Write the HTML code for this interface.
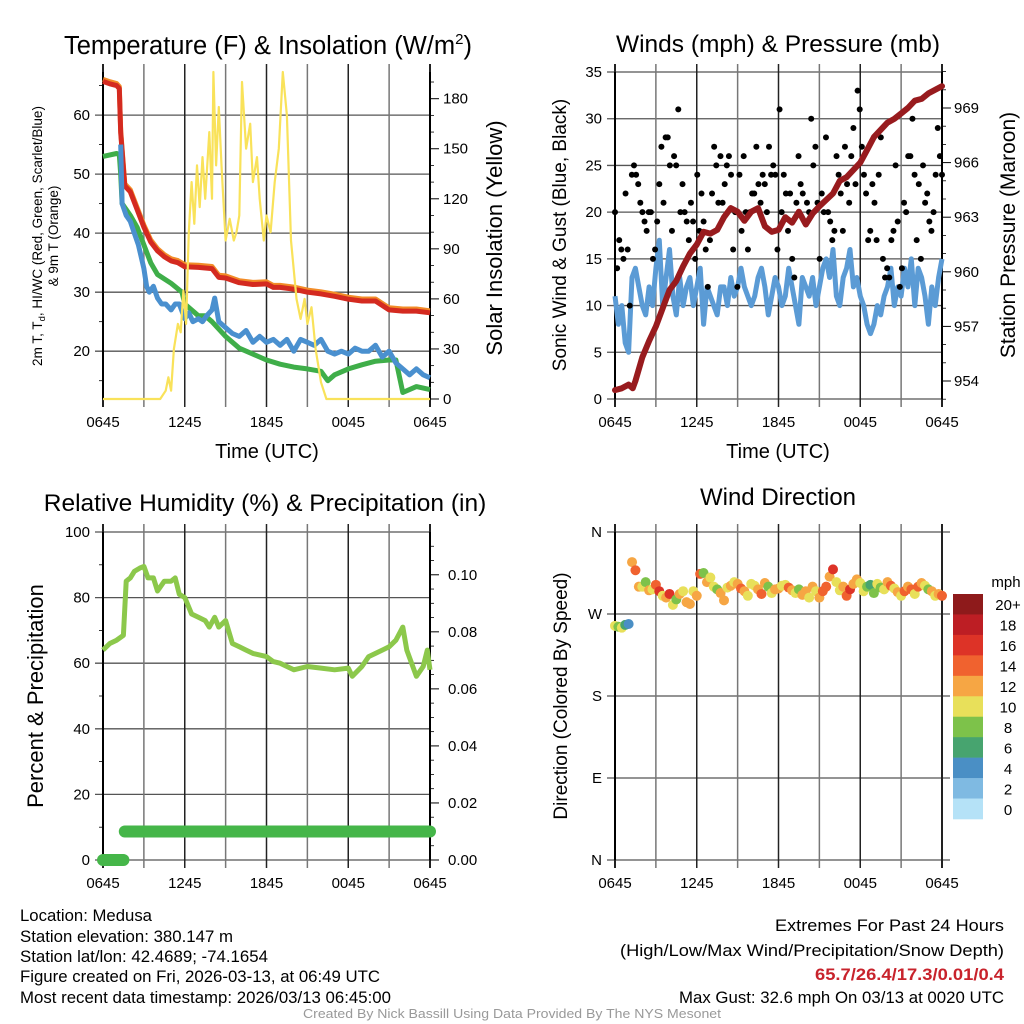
<!DOCTYPE html>
<html><head><meta charset="utf-8"><style>
html,body{margin:0;padding:0;background:#fff}
svg{display:block;font-family:"Liberation Sans",sans-serif}
</style></head><body>
<svg id="fig" width="1024" height="1024" viewBox="0 0 1024 1024" xmlns="http://www.w3.org/2000/svg">
<rect width="1024" height="1024" fill="#fff"/>
<g id="g"></g>
<g font-size="16.5" fill="#000">
<text x="20" y="921" textLength="132" lengthAdjust="spacingAndGlyphs">Location: Medusa</text>
<text x="20" y="942" textLength="213" lengthAdjust="spacingAndGlyphs">Station elevation: 380.147 m</text>
<text x="20" y="962" textLength="248" lengthAdjust="spacingAndGlyphs">Station lat/lon: 42.4689; -74.1654</text>
<text x="20" y="982" textLength="360" lengthAdjust="spacingAndGlyphs">Figure created on Fri, 2026-03-13, at 06:49 UTC</text>
<text x="20" y="1003" textLength="371" lengthAdjust="spacingAndGlyphs">Most recent data timestamp: 2026/03/13 06:45:00</text>
</g>
<g font-size="16.5">
<text x="775" y="931" textLength="229" lengthAdjust="spacingAndGlyphs">Extremes For Past 24 Hours</text>
<text x="620" y="956" textLength="384" lengthAdjust="spacingAndGlyphs">(High/Low/Max Wind/Precipitation/Snow Depth)</text>
<text x="815" y="980" textLength="189" lengthAdjust="spacingAndGlyphs" fill="#c8232c" font-weight="bold">65.7/26.4/17.3/0.01/0.4</text>
<text x="679" y="1003" textLength="325" lengthAdjust="spacingAndGlyphs">Max Gust: 32.6 mph On 03/13 at 0020 UTC</text>
</g>
<text x="303" y="1018" font-size="13" textLength="418" lengthAdjust="spacingAndGlyphs" fill="#999">Created By Nick Bassill Using Data Provided By The NYS Mesonet</text>
</svg>
<script>
// ---------- data (time in hours since 0645 UTC) ----------
const xTickLabels = ["0645","1245","1845","0045","0645"];
const tempT = [0,0.5,1,1.2,1.3,1.6,2,2.5,3,3.5,4,4.5,5,5.5,6,7,8,8.5,9,10,11,12,12.5,13,14,15,16,17,18,19,20,21,22,23,24];
const tempV = [65.7,65.3,65,64.5,57,48,47,44,41,38.5,37,36,35.3,35,34.3,34.2,34,32.5,32.4,31.6,31.3,31.4,30.8,30.8,30.5,30,29.7,29.3,28.8,28.5,28.5,27,26.8,26.8,26.5];
const dewT = [0,1,1.2,1.3,1.4,2,2.5,3,3.5,4,5,5.8,6,7,7.5,8,9,10,11,12,13,14,15,16,16.5,17,18,19,20,21,21.5,22,23,24];
const dewV = [53,53.5,53.3,50,45,43,41,38,35,33,31.5,30,28,26,26,25,22.5,20.5,19.5,18.5,17.8,17.3,17,16.6,15,16,17,17.7,18.3,18.5,18.5,13,14,13.5];
const wcT = [1.3,1.4,1.7,2,2.3,2.6,3,3.2,3.4,3.7,4,4.3,4.6,5,5.3,5.6,6,6.3,6.6,7,7.3,7.6,8,8.2,8.5,9,9.5,10,10.5,11,11.5,12,12.5,13,13.5,14,14.5,15,15.5,16,16.5,17,17.5,18,18.5,19,19.5,20,20.5,21,21.5,22,22.5,23,23.5,24];
const wcV = [55,45,43,42,40,38,34,31,30,31,29,28,28,27,28,28,25.5,26.5,25,25.5,25,26,27,29,25,24,23,22.5,23.5,21.5,22.5,21.5,22,21,22,20,22,21.5,21,22,20,19.5,20,19.5,20.5,20,20,21,19,20,18,17,16,17,16,15.5];
const solT = [0,4.2,4.6,4.8,5.0,5.2,5.5,5.7,5.9,6.1,6.3,6.5,6.7,6.9,7.1,7.3,7.5,7.8,8.0,8.1,8.3,8.5,8.7,9.0,9.3,9.6,9.8,10.0,10.2,10.5,10.8,11.0,11.3,11.5,11.8,12.0,12.3,12.6,12.9,13.2,13.5,13.8,14.2,14.5,14.8,15.0,15.3,15.6,16.0,16.4,24];
const solV = [0,0,5,13,5,30,45,40,65,45,100,130,105,140,115,145,120,160,120,196,140,175,140,95,108,95,100,110,190,150,165,130,145,120,95,110,100,130,150,196,170,95,60,48,60,45,55,30,10,0,0];
const windSpd = [11,8,10,6,5,13,14,12,10,9,12,10,14,
17,10,13,16,11,9,13,10,12,13,10,12,
14,8,12,11,10,9,12,12,10,13,11,12,
14,12,11,10,11,13,14,12,9,11,13,12,
10,11,14,12,10,8,13,12,11,13,10,12,
14,15,13,16,11,10,13,14,16,12,13,11,
10,8,7,8,10,9,11,12,14,10,12,11,
14,12,15,10,14,13,11,8,12,10,13,15];
const gustV = [20,14,17,16,15,22,16,10,24,25,24,23,21,20,19,18,20,20,15,16,19,23,27,21,28,28,25,18,26,25,31,20,23,20,19,17,21,19,15,24,18,22,19,16,12,17,22,27,25,21,26,21,23,25,26,24,16,20,12,24,18,26,20,16,20,22,22,27,23,21,24,23,20,27,24,25,24,16,31,20,24,22,18,22,15,13,21,26,23,22,19,21,20,30,25,27,21,15,22,20,28,20,19,17,18,26,24,22,18,27,23,21,26,29,23,33,31,27,24,22,17,18,23,21,17,24,28,15,13,14,13,17,18,25,19,12,14,21,20,26,26,30,24,17,23,15,25,21,22,19,18,20,24,29,26,24];
const presT = [0,0.5,1,1.3,1.5,2,2.5,3,3.5,4,4.5,5,5.5,6,6.5,7,7.5,8,8.5,9,9.5,10,10.5,11,11.5,12,12.5,13,13.5,14,14.5,15,16,16.5,17,17.5,18,18.5,19,19.5,20,20.5,21,21.5,22,22.5,23,24];
const presV = [953.5,953.6,953.8,953.6,954,955.3,956.2,957,958,959,959.5,960.3,961,961.5,962.2,962.1,962.3,963,963.5,963.3,962.8,963.3,963.5,962.5,962.2,962.3,963,962.7,963.3,962.6,963.2,963.6,964.3,965,965.2,965.6,966,966.7,967.4,967.8,968.2,968.4,968.7,969,969.4,969.5,969.8,970.2];
const rhT = [0,0.5,1,1.5,1.7,2,2.3,2.7,3,3.3,3.7,4,4.5,5,5.3,5.6,6,6.5,7,7.5,7.8,8.2,8.5,9,9.5,10,10.5,11,12,12.5,13,14,15,16,17,18,18.3,19,19.5,20,21,21.5,22,22.3,23,23.5,23.8,24];
const rhV = [64,66,67,68.5,85,86,88,89,89.5,86,86,82,85,85,86,81,80,75,74,73,71,74,71,73,66,65,64,63,62,60.5,60,58,59,58.5,58,58.5,56,59,62,63,65,67,71,64,56,59,64,58];
const precipT = [0,1.5,1.6,24];
const precipV = [0,0,0.01,0.01];
const dirV = [257,256,255,258,259,327,318,300,300,305,296,297,302,
295,290,288,292,280,286,292,295,283,281,295,290,
314,315,305,310,300,297,293,285,299,301,305,303,
298,295,290,303,301,297,292,304,300,293,297,298,
301,302,299,296,293,297,291,295,288,300,295,288,
295,300,311,319,305,296,300,290,297,303,308,304,
295,300,302,293,303,299,297,305,301,298,294,290,
295,300,297,292,300,304,301,297,295,290,292,290];
const cbLabels = ["20+","18","16","14","12","10","8","6","4","2","0"];
const cbColors = ["#8e1a1b","#bd1e24","#dd3327","#f0622f","#f6a644","#e8e05a","#7dc24a","#47a46f","#4a8fc5","#7fbae2","#b5e2f7"];

// ---------- helpers ----------
const NS="http://www.w3.org/2000/svg";
const root=document.getElementById('g');
function el(tag,attrs,parent){const e=document.createElementNS(NS,tag);for(const k in attrs)e.setAttribute(k,attrs[k]);(parent||root).appendChild(e);return e;}
function lin(d0,d1,r0,r1){return v=>r0+(v-d0)/(d1-d0)*(r1-r0);}
function pathD(ts,vs,sx,sy){return ts.map((t,i)=>(i?'L':'M')+sx(t).toFixed(1)+','+sy(vs[i]).toFixed(1)).join('');}
function txt(s,x,y,attrs,parent){const t=el('text',Object.assign({x:x,y:y},attrs||{}),parent);t.textContent=s;return t;}

function frame(P){
  const g=el('g',{});
  
  
  const sx=lin(0,24,P.x0,P.x1);
  P.hgrid.forEach(v=>{const y=P.sy(v);const l=el('line',{x1:P.x0-8,x2:P.x1+(P.rExt||0),y1:y,y2:y,stroke:'#555','stroke-width':1.3},g);});
  for(let h=0;h<=24;h+=3){const x=sx(h);const l=el('line',{x1:x,x2:x,y1:P.y0-8,y2:P.y1+8,stroke:h%6?'#777':'#222','stroke-width':h===0||h===24?2:1.5},g);}
  xTickLabels.forEach((s,i)=>{const t=txt(s,sx(i*6),P.y1+28,{'font-size':15,'text-anchor':'middle'},g);});
  el('line',{x1:P.x0,x2:P.x0,y1:P.y0,y2:P.y1,stroke:'#000','stroke-width':2},g);
  (P.lminor||[]).forEach(v=>{const y=P.sy(v);el('line',{x1:P.x0-4,x2:P.x0,y1:y,y2:y,stroke:'#000','stroke-width':0.8},g);});
  P.lticks.forEach((v,i)=>{const t=txt(P.llab[i],P.x0-13,P.sy(v)+5,{'font-size':15,'text-anchor':'end'},g);});
  return {g,sx};
}

// ---------- Panel 1: temperature ----------
(function(){
  const x0=103,x1=430,y0=72,y1=399;
  const sy=lin(11.9,67.3,y1,y0), syR=lin(0,196,y1,y0);
  const {g,sx}=frame({name:'temperature-panel',x0,x1,y0,y1,sy,hgrid:[20,30,40,50,60],lticks:[20,30,40,50,60],llab:['20','30','40','50','60'],lminor:[15,25,35,45,55,65]});
  el('line',{x1:x1,x2:x1,y1:y0,y2:y1,stroke:'#000','stroke-width':2},g);
  [0,30,60,90,120,150,180].forEach(v=>{const y=syR(v);el('line',{x1:x1,x2:x1+9,y1:y,y2:y,stroke:'#000','stroke-width':1},g);const t=txt(String(v),x1+13,y+5,{'font-size':15},g);});
  for(let v=10;v<196;v+=10){if(v%30){const y=syR(v);el('line',{x1:x1,x2:x1+4,y1:y,y2:y,stroke:'#000','stroke-width':0.8},g);}}
  let p;
  p=el('path',{d:pathD(tempT,tempV.map(v=>v+0.35),sx,sy),fill:'none',stroke:'#f28c28','stroke-width':5,'stroke-linejoin':'round'},g);
  p=el('path',{d:pathD(tempT,tempV,sx,sy),fill:'none',stroke:'#d42a20','stroke-width':5,'stroke-linejoin':'round'},g);
  p=el('path',{d:pathD(dewT,dewV,sx,sy),fill:'none',stroke:'#3fae49','stroke-width':5,'stroke-linejoin':'round'},g);
  p=el('path',{d:pathD(wcT,wcV,sx,sy),fill:'none',stroke:'#4a90cf','stroke-width':5,'stroke-linejoin':'round'},g);
  p=el('path',{d:pathD(solT,solV,sx,syR),fill:'none',stroke:'#f9e25a','stroke-width':2.2,'stroke-linejoin':'round'},g);
  let t=txt('Temperature (F) & Insolation (W/m',64,54,{'font-size':25.5},g);
  const tsp=el('tspan',{dy:-10,'font-size':15},t);tsp.textContent='2';
  const tsp2=el('tspan',{dy:10,'font-size':25.5},t);tsp2.textContent=')';
  t=txt('Time (UTC)',267,458,{'font-size':20,'text-anchor':'middle'},g);
  t=el('text',{'font-size':13.5,'text-anchor':'middle',transform:'translate(42,236) rotate(-90)'},g);
  t.innerHTML='2m T, T<tspan font-size="9.5" dy="3">d</tspan><tspan dy="-3">, HI/WC (Red, Green, Scarlet/Blue)</tspan>';
  t=txt('& 9m T (Orange)',0,0,{'font-size':13.5,'text-anchor':'middle',transform:'translate(58,236) rotate(-90)'},g);
  t=txt('Solar Insolation (Yellow)',0,0,{'font-size':22,'text-anchor':'middle',transform:'translate(502,238) rotate(-90)'},g);
})();

// ---------- Panel 2: winds & pressure ----------
(function(){
  const x0=615,x1=942,y0=72,y1=399;
  const sy=lin(0,35,y1,y0), syR=lin(954,969,381,108);
  const {g,sx}=frame({name:'winds-panel',x0,x1,y0,y1,sy,hgrid:[0,5,10,15,20,25,30,35],lticks:[0,5,10,15,20,25,30,35],llab:['0','5','10','15','20','25','30','35'],rExt:0});
  el('line',{x1:x1,x2:x1,y1:y0,y2:y1,stroke:'#000','stroke-width':2},g);
  [954,957,960,963,966,969].forEach(v=>{const y=syR(v);el('line',{x1:x1,x2:x1+9,y1:y,y2:y,stroke:'#000','stroke-width':1},g);const t=txt(String(v),x1+12,y+5,{'font-size':15},g);});
  for(let v=953;v<=971;v++){if((v-954)%3){const y=syR(v);el('line',{x1:x1,x2:x1+4,y1:y,y2:y,stroke:'#000','stroke-width':0.8},g);}}
  const wt=windSpd.map((_,i)=>i*24/(windSpd.length-1));
  let p=el('path',{d:pathD(wt,windSpd,sx,sy),fill:'none',stroke:'#5b9bd5','stroke-width':5,'stroke-linejoin':'round'},g);
  gustV.forEach((v,i)=>{const c=el('circle',{cx:sx(i*24/(gustV.length-1)),cy:sy(v),r:3,fill:'#000'},g);});
  p=el('path',{d:pathD(presT,presV,sx,syR),fill:'none',stroke:'#981b1e','stroke-width':6,'stroke-linejoin':'round','stroke-linecap':'round'},g);
  let t=txt('Winds (mph) & Pressure (mb)',778,52,{'font-size':24.5,'text-anchor':'middle'},g);
  t=txt('Time (UTC)',778,458,{'font-size':20,'text-anchor':'middle'},g);
  t=txt('Sonic Wind & Gust (Blue, Black)',0,0,{'font-size':19,'text-anchor':'middle',transform:'translate(566,235) rotate(-90)'},g);
  t=txt('Station Pressure (Maroon)',0,0,{'font-size':21,'text-anchor':'middle',transform:'translate(1015,235) rotate(-90)'},g);
})();

// ---------- Panel 3: RH & precip ----------
(function(){
  const x0=103,x1=430,y0=532,y1=860;
  const sy=lin(0,100,y1,y0), syR=lin(0,0.115,y1,y0);
  const {g,sx}=frame({name:'humidity-panel',x0,x1,y0,y1,sy,hgrid:[0,20,40,60,80,100],lticks:[0,20,40,60,80,100],llab:['0','20','40','60','80','100'],lminor:[10,30,50,70,90]});
  el('line',{x1:x1,x2:x1,y1:y0,y2:y1,stroke:'#000','stroke-width':2},g);
  [0,0.02,0.04,0.06,0.08,0.10].forEach(v=>{const y=syR(v);el('line',{x1:x1,x2:x1+9,y1:y,y2:y,stroke:'#000','stroke-width':1},g);const t=txt(v.toFixed(2),x1+18,y+5,{'font-size':15},g);});
  for(let k=1;k<23;k++){if(k%4){const y=syR(k*0.005);el('line',{x1:x1,x2:x1+4,y1:y,y2:y,stroke:'#000','stroke-width':0.8},g);}}
  let p=el('path',{d:pathD(precipT.slice(0,2),precipV.slice(0,2),sx,syR),fill:'none',stroke:'#45b649','stroke-width':12,'stroke-linecap':'round'},g);
  p=el('path',{d:pathD(precipT.slice(2),precipV.slice(2),sx,syR),fill:'none',stroke:'#45b649','stroke-width':12,'stroke-linecap':'round'},g);
  p=el('path',{d:pathD(rhT,rhV,sx,sy),fill:'none',stroke:'#8cc84b','stroke-width':5,'stroke-linejoin':'round'},g);
  let t=txt('Relative Humidity (%) & Precipitation (in)',265,511,{'font-size':24.5,'text-anchor':'middle'},g);
  t=txt('Percent & Precipitation',0,0,{'font-size':22,'text-anchor':'middle',transform:'translate(43,696) rotate(-90)'},g);
})();

// ---------- Panel 4: wind direction ----------
(function(){
  const x0=615,x1=942,y0=532,y1=860;
  const sy=lin(0,360,y1,y0);
  const {g,sx}=frame({name:'wind-direction-panel',x0,x1,y0,y1,sy,hgrid:[0,90,180,270,360],lticks:[0,90,180,270,360],llab:['N','E','S','W','N'],rExt:8});
  function col(s){let i=Math.floor(s/2);if(i>10)i=10;return cbColors[10-i];}
  dirV.forEach((v,i)=>{const c=el('circle',{cx:sx(i*24/(dirV.length-1)),cy:sy(v),r:5,fill:col(windSpd[i])},g);});
  const cb=el('g',{},g);
  const bh=(819-594)/cbColors.length;
  cbColors.forEach((c,i)=>{const r=el('rect',{x:953,y:594+i*bh,width:30,height:bh+0.3,fill:c},cb);
    const t=txt(cbLabels[i],1008,594+i*bh+bh/2+6,{'font-size':15,'text-anchor':'middle'},cb);});
  let t=txt('mph',1006,587,{'font-size':15,'text-anchor':'middle'},cb);
  t=txt('Wind Direction',778,505,{'font-size':24,'text-anchor':'middle'},g);
  t=txt('Direction (Colored By Speed)',0,0,{'font-size':19,'text-anchor':'middle',transform:'translate(567,696) rotate(-90)'},g);
})();
</script>
</body></html>
